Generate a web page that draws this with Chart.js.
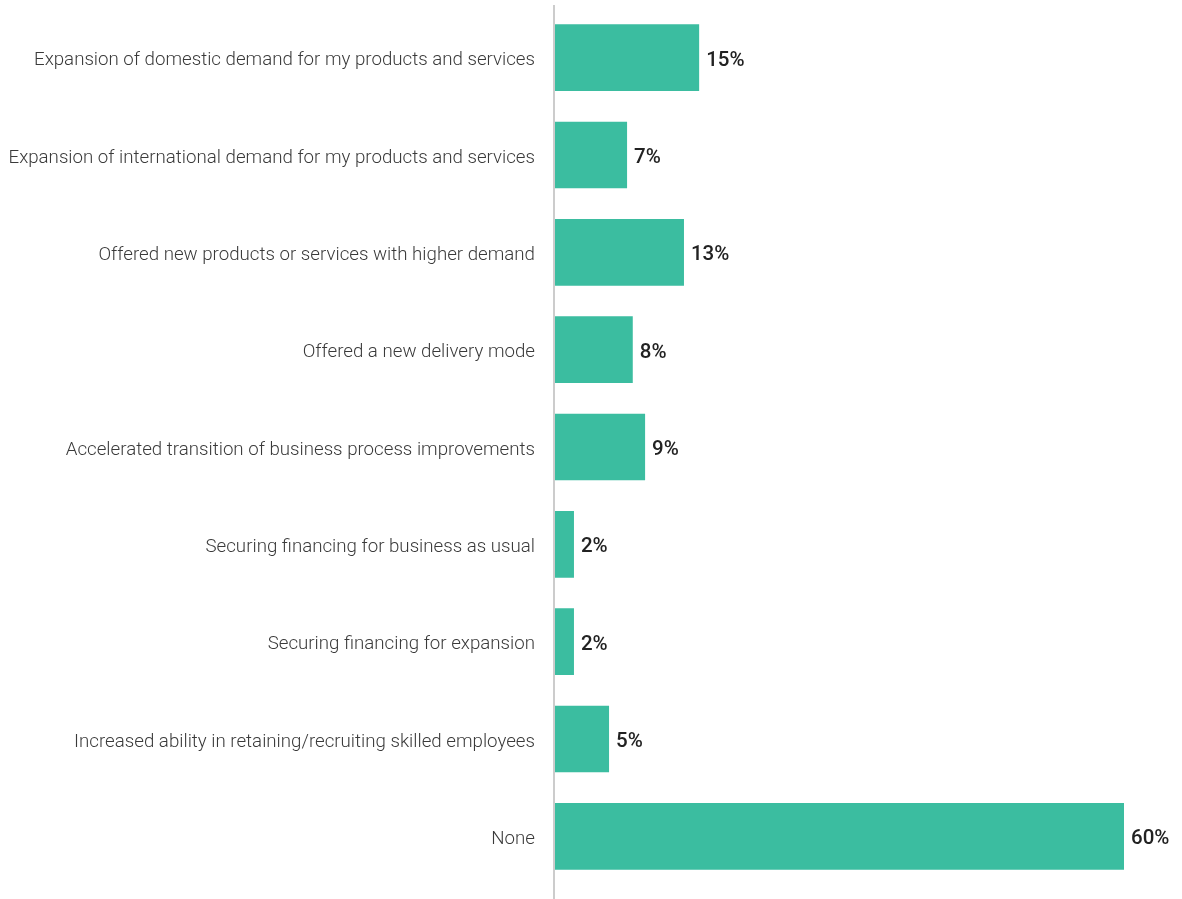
<!DOCTYPE html>
<html>
<head>
<meta charset="utf-8">
<script src="https://cdn.jsdelivr.net/npm/chart.js@4"></script>
<style>
  html, body { margin: 0; padding: 0; background: #fff; }
  #wrap { width: 1182px; height: 899px; position: relative; }
</style>
</head>
<body>
<div id="wrap"><canvas id="id-grafico"></canvas></div>
<script>
// categories and values
const categorias = [
    "Expansion of domestic demand for my products and services",
    "Expansion of international demand for my products and services",
    "Offered new products or services with higher demand",
    "Offered a new delivery mode",
    "Accelerated transition of business process improvements",
    "Securing financing for business as usual",
    "Securing financing for expansion",
    "Increased ability in retaining/recruiting skilled employees",
    "None"
];
const valores = [15.2, 7.6, 13.6, 8.2, 9.5, 2.0, 2.0, 5.7, 60];
const etiquetas = ["15%", "7%", "13%", "8%", "9%", "2%", "2%", "5%", "60%"];

const colorBarra = "#3bbda0";

// baseline at zero, a bit longer than the plot area
const lineaBase = {
    id: "lineaBase",
    beforeDatasetsDraw(chart) {
        const ctx = chart.ctx;
        const x0 = chart.scales.x.getPixelForValue(0) - 1;
        ctx.save();
        ctx.strokeStyle = "#cccccc";
        ctx.lineWidth = 2;
        ctx.beginPath();
        ctx.moveTo(x0, chart.chartArea.top - 4);
        ctx.lineTo(x0, chart.height);
        ctx.stroke();
        ctx.restore();
    }
};

// writes the % label just past the end of each bar
const pintarEtiquetas = {
    id: "pintarEtiquetas",
    afterDatasetsDraw(chart) {
        const ctx = chart.ctx;
        const meta = chart.getDatasetMeta(0);
        ctx.save();
        ctx.font = "500 20.5px Roboto";
        ctx.fillStyle = "#222";
        ctx.textAlign = "left";
        ctx.textBaseline = "middle";
        meta.data.forEach((bar, i) => {
            ctx.fillText(etiquetas[i], bar.x + 7, bar.y + 3);
        });
        ctx.restore();
    }
};

new Chart("id-grafico", {
    type: "bar",
    data: {
        labels: categorias,
        datasets: [{
            data: valores,
            backgroundColor: colorBarra,
            borderWidth: 0,
            categoryPercentage: 0.685,
            barPercentage: 1.0
        }]
    },
    plugins: [lineaBase, pintarEtiquetas],
    options: {
        indexAxis: "y",
        responsive: true,
        maintainAspectRatio: false,
        animation: false,
        layout: { autoPadding: false, padding: { top: 9, bottom: 14, left: 0, right: 58 } },
        plugins: {
            legend: { display: false },
            tooltip: { enabled: false }
        },
        scales: {
            x: {
                min: 0,
                max: 60,
                display: false
            },
            y: {
                afterFit: (s) => {
                    s.width = 555;
                    s.paddingTop = 0;
                    s.paddingBottom = 0;
                },
                grid: { display: false },
                border: { display: false },
                ticks: {
                    padding: 12,
                    labelOffset: 3,
                    color: "#3a3a3a",
                    font: { family: "Roboto", size: 18.7, weight: 300 }
                }
            }
        }
    }
});
</script>
</body>
</html>
